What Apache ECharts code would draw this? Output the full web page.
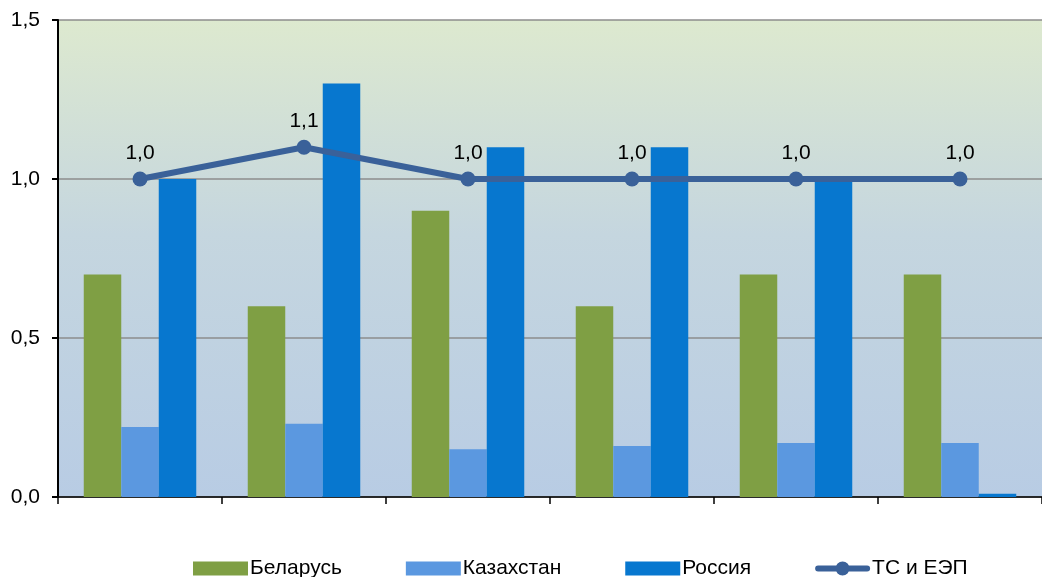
<!DOCTYPE html>
<html><head><meta charset="utf-8">
<script src="https://cdn.jsdelivr.net/npm/echarts@6/dist/echarts.min.js"></script>
<style>html,body{margin:0;padding:0;background:#fff;}#c{width:1042px;height:577px;}</style>
</head><body><div id="c"></div>
<script>
const categories = ['1', '2', '3', '4', '5', '6'];
const belarus = [0.7, 0.6, 0.9, 0.6, 0.7, 0.7];
const kazakhstan = [0.22, 0.23, 0.15, 0.16, 0.17, 0.17];
const russia = [1.0, 1.3, 1.1, 1.1, 1.0, 0.01];
const tsEep = [1.0, 1.1, 1.0, 1.0, 1.0, 1.0];
const seriesNames = ['Беларусь', 'Казахстан', 'Россия', 'ТС и ЕЭП'];
const yTicks = { min: 0, max: 1.5, interval: 0.5 };

const fmt = v => Number(v).toFixed(1).replace('.', ',');
const chart = echarts.init(document.getElementById('c'));
const font = 'Liberation Sans, Arial, sans-serif';
const lineIcon = 'path://M3,4 L52,4 A3,3 0 0 1 52,10 L3,10 A3,3 0 0 1 3,4 Z M27.5,0 A7,7 0 1 1 27.4,0 Z';
chart.setOption({
  animation: false,
  textStyle: { fontFamily: font },
  grid: {
    left: 58, top: 20, width: 990, height: 477,
    show: true, borderWidth: 0,
    backgroundColor: new echarts.graphic.LinearGradient(0, 0, 0, 1, [
      { offset: 0, color: '#dde9cf' },
      { offset: 0.45, color: '#c5d6df' },
      { offset: 1, color: '#b8cce4' }
    ])
  },
  legend: {
    bottom: -7, left: 188,
    itemWidth: 55, itemHeight: 14, itemGap: 64,
    textStyle: { fontSize: 21, color: '#000', fontFamily: font, padding: [0, 0, 0, -3] },
    data: seriesNames.map(n => ({ name: n, icon: n === 'ТС и ЕЭП' ? lineIcon : 'rect' }))
  },
  xAxis: {
    type: 'category', data: categories,
    axisLine: { lineStyle: { color: '#000', width: 1.5 } },
    axisTick: { show: true, length: 7, lineStyle: { color: '#000', width: 1.5 } },
    axisLabel: { show: false },
    splitLine: { show: false }
  },
  yAxis: {
    type: 'value', min: yTicks.min, max: yTicks.max, interval: yTicks.interval,
    axisLine: { show: true, lineStyle: { color: '#000', width: 2 } },
    axisTick: { show: true, inside: false, length: 6, lineStyle: { color: '#000', width: 2 } },
    axisLabel: { fontSize: 21, color: '#000', margin: 18, formatter: fmt },
    splitLine: { show: true, lineStyle: { color: '#8c8c8c', width: 1.5 } }
  },
  series: [
    { name: seriesNames[0], type: 'bar', data: belarus, barWidth: 37.5, barGap: '0%', itemStyle: { color: '#7f9f44' } },
    { name: seriesNames[1], type: 'bar', data: kazakhstan, barWidth: 37.5, barGap: '0%', itemStyle: { color: '#5b98e0' } },
    { name: seriesNames[2], type: 'bar', data: russia, barWidth: 37.5, barGap: '0%', itemStyle: { color: '#0777cf' } },
    { name: seriesNames[3], type: 'line', data: tsEep, symbol: 'circle', symbolSize: 15,
      lineStyle: { color: '#3a6199', width: 6 }, itemStyle: { color: '#3a6199' },
      label: { show: true, position: 'top', distance: 8, fontSize: 21, color: '#000', formatter: p => fmt(p.value) },
      z: 5 }
  ]
});
</script></body></html>
